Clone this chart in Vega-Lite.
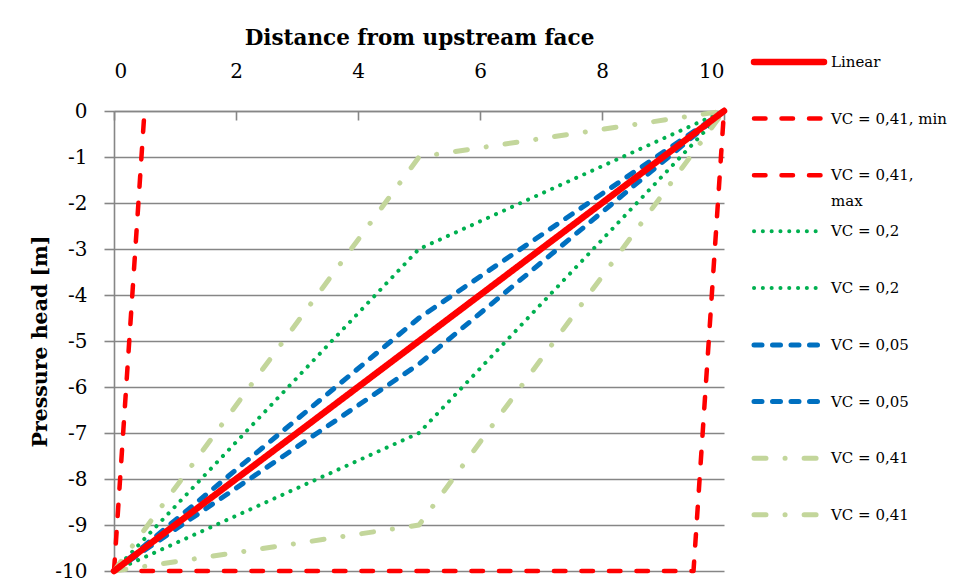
{
  "$schema": "https://vega.github.io/schema/vega-lite/v6.json",
  "width": 610,
  "height": 460,
  "autosize": {"type": "none"},
  "padding": {"left": 114, "top": 111, "right": 231, "bottom": 10},
  "background": "white",
  "config": {
    "font": "DejaVu Serif",
    "view": {"stroke": null}
  },
  "data": {
    "values": [
      {"s": "mn", "x": 0.45, "y": -10},
      {"s": "mn", "x": 9.5, "y": -10},
      {"s": "mn", "x": 10, "y": 0},
      {"s": "mx", "x": 0, "y": -10},
      {"s": "mx", "x": 0.5, "y": 0},
      {"s": "g1", "x": 0, "y": -10},
      {"s": "g1", "x": 5, "y": -3},
      {"s": "g1", "x": 10, "y": 0},
      {"s": "g2", "x": 0, "y": -10},
      {"s": "g2", "x": 5, "y": -7},
      {"s": "g2", "x": 10, "y": 0},
      {"s": "b1", "x": 0, "y": -10},
      {"s": "b1", "x": 5, "y": -4.5},
      {"s": "b1", "x": 10, "y": 0},
      {"s": "b2", "x": 0, "y": -10},
      {"s": "b2", "x": 5, "y": -5.5},
      {"s": "b2", "x": 10, "y": 0},
      {"s": "o1", "x": 0, "y": -10},
      {"s": "o1", "x": 5, "y": -1},
      {"s": "o1", "x": 10, "y": 0},
      {"s": "o2", "x": 0, "y": -10},
      {"s": "o2", "x": 5, "y": -9},
      {"s": "o2", "x": 10, "y": 0},
      {"s": "L", "x": 0, "y": -10},
      {"s": "L", "x": 10, "y": 0}
    ]
  },
  "mark": {"type": "line", "strokeCap": "round", "strokeJoin": "round"},
  "encoding": {
    "x": {
      "field": "x",
      "type": "quantitative",
      "scale": {"domain": [0, 10], "nice": false},
      "axis": {
        "orient": "top",
        "title": "Distance from upstream face",
        "titleFont": "DejaVu Serif",
        "titleFontSize": 21.5,
        "titleFontWeight": "bold",
        "titleColor": "black",
        "titlePadding": 12,
        "values": [0, 2, 4, 6, 8, 10],
        "grid": false,
        "domainColor": "#868686",
        "domainWidth": 1.6,
        "tickColor": "#868686",
        "tickWidth": 1.6,
        "tickSize": -9,
        "labelPadding": 39,
        "labelFont": "DejaVu Serif",
        "labelFontSize": 20,
        "labelColor": "black"
      }
    },
    "y": {
      "field": "y",
      "type": "quantitative",
      "scale": {"domain": [-10, 0], "nice": false},
      "axis": {
        "title": "Pressure head [m]",
        "titleFont": "DejaVu Serif",
        "titleFontSize": 20.5,
        "titleFontWeight": "bold",
        "titleColor": "black",
        "titlePadding": 4,
        "values": [-10, -9, -8, -7, -6, -5, -4, -3, -2, -1, 0],
        "labelExpr": "'' + datum.value",
        "grid": true,
        "gridColor": "#868686",
        "gridWidth": 1.6,
        "domainColor": "#868686",
        "domainWidth": 1.6,
        "tickColor": "#868686",
        "tickWidth": 1.6,
        "tickSize": 10,
        "labelPadding": 17,
        "labelFont": "DejaVu Serif",
        "labelFontSize": 20,
        "labelColor": "black"
      }
    },
    "color": {
      "field": "s",
      "type": "nominal",
      "scale": {
        "domain": ["L", "mn", "mx", "g1", "g2", "b1", "b2", "o1", "o2"],
        "range": ["#FF0000", "#FF0000", "#FF0000", "#00B050", "#00B050", "#0070C0", "#0070C0", "#C3D69B", "#C3D69B"]
      },
      "legend": {
        "title": null,
        "orient": "none",
        "legendX": 654,
        "legendY": -70,
        "padding": 0,
        "symbolType": "M-2,0H2",
        "symbolSize": 1225,
        "labelFont": "DejaVu Serif",
        "labelFontSize": 15,
        "labelColor": "black",
        "labelOffset": 21,
        "labelLimit": 200,
        "rowPadding": 2.6,
        "labelExpr": "datum.label == 'L' ? ['Linear', ''] : datum.label == 'mn' ? ['VC = 0,41, min', ''] : datum.label == 'mx' ? ['VC = 0,41,', 'max'] : (datum.label == 'g1' || datum.label == 'g2') ? ['VC = 0,2', ''] : (datum.label == 'b1' || datum.label == 'b2') ? ['VC = 0,05', ''] : ['VC = 0,41', '']",
        "encode": {
          "symbols": {"update": {"strokeCap": {"value": "round"}, "fill": {"value": "transparent"}}},
          "labels": {"update": {"lineHeight": {"value": 26}}}
        }
      }
    },
    "strokeDash": {
      "field": "s",
      "type": "nominal",
      "scale": {
        "domain": ["L", "mn", "mx", "g1", "g2", "b1", "b2", "o1", "o2"],
        "range": [[1, 0], [11.5, 16], [11.5, 16], [0.1, 8.7], [0.1, 8.7], [8, 10.5], [8, 10.5], [12, 19, 0.1, 19], [12, 19, 0.1, 19]]
      }
    },
    "strokeWidth": {
      "field": "s",
      "type": "nominal",
      "scale": {
        "type": "ordinal",
        "domain": ["L", "mn", "mx", "g1", "g2", "b1", "b2", "o1", "o2"],
        "range": [6.5, 4.5, 4.5, 4, 4, 5, 5, 5, 5]
      }
    }
  }
}
